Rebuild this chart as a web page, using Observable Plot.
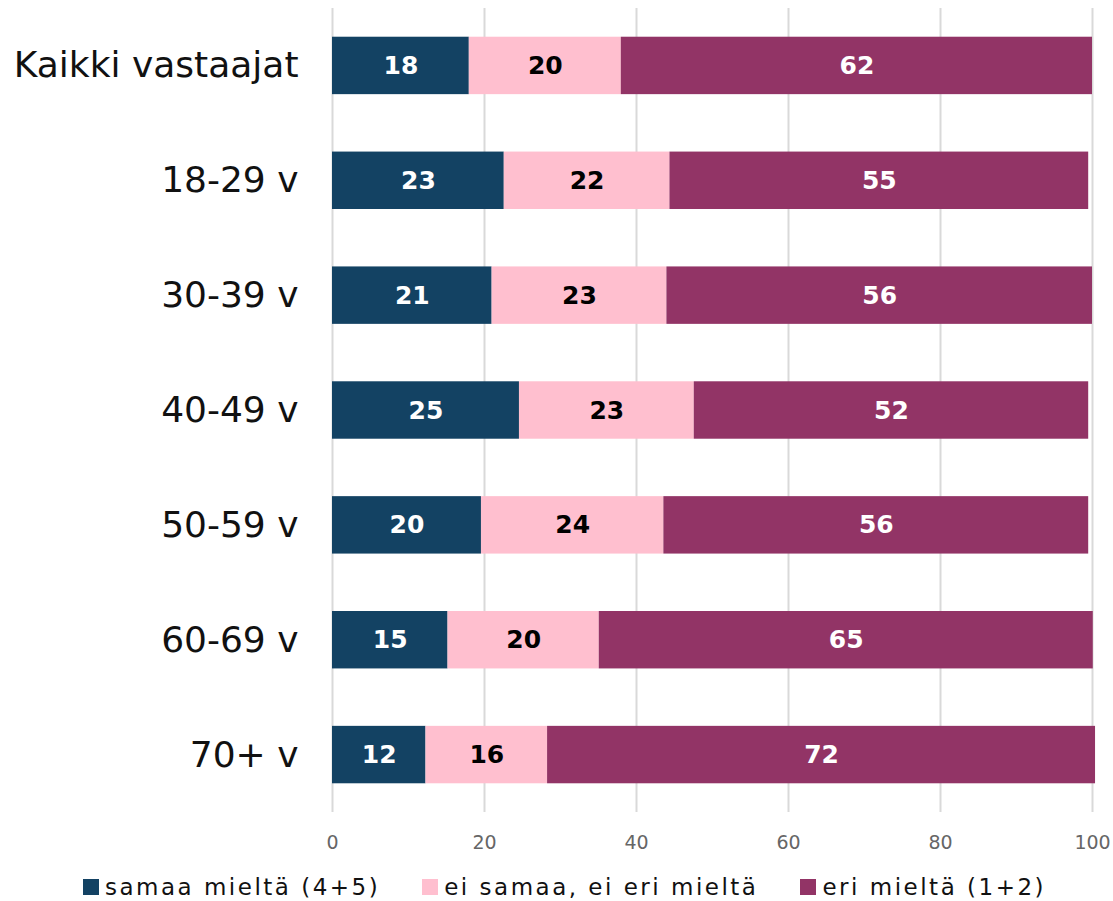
<!DOCTYPE html>
<html>
<head>
<meta charset="utf-8">
<script src="https://cdn.jsdelivr.net/npm/d3@7"></script>
<script src="https://cdn.jsdelivr.net/npm/@observablehq/plot@0.6"></script>
<style>
  body { margin: 0; background: #fff; font-family: "DejaVu Sans", sans-serif; overflow: hidden; }
  #chart svg { display: block; }
  #legend { display: flex; justify-content: center; align-items: center; gap: 42px; margin-left: 16px; height: 36px; padding-top: 17px; font-size: 23px; line-height: 28px; letter-spacing: 2.5px; color: #111; font-family: "DejaVu Sans", sans-serif; }
  .item { display: flex; align-items: center; gap: 6px; }
  .sw { width: 16px; height: 16px; display: inline-block; }
</style>
</head>
<body>
<div id="chart"></div>
<div id="legend"></div>
<script>
const groups = ["Kaikki vastaajat", "18-29 v", "30-39 v", "40-49 v", "50-59 v", "60-69 v", "70+ v"];
const seriesNames = ["samaa mieltä (4+5)", "ei samaa, ei eri mieltä", "eri mieltä (1+2)"];
const seriesColors = ["#134263", "#ffbfcf", "#923466"];
const agree    = [18.0, 22.6, 21.0, 24.6, 19.6, 15.2, 12.3];
const neutral  = [20.0, 21.8, 23.0, 23.0, 24.0, 19.9, 16.0];
const disagree = [62.0, 55.1, 56.0, 51.9, 55.9, 65.0, 72.1];
const xTicks = [0, 20, 40, 60, 80, 100];

const seriesValues = [agree, neutral, disagree];
const data = [];
groups.forEach((g, i) => {
  seriesNames.forEach((s, j) => {
    data.push({group: g, series: s, value: seriesValues[j][i]});
  });
});

const chart = Plot.plot({
  width: 1113,
  height: 852,
  marginLeft: 332,
  marginRight: 21,
  marginTop: 8,
  marginBottom: 40,
  style: { fontFamily: "DejaVu Sans, sans-serif", background: "#fff" },
  x: { domain: [0, 100], ticks: xTicks },
  y: { domain: groups, paddingInner: 0.5, paddingOuter: 0.25, round: false },
  color: { domain: seriesNames, range: seriesColors },
  marks: [
    Plot.gridX(xTicks, { stroke: "#d9d9d9", strokeOpacity: 1, strokeWidth: 2 }),
    Plot.barX(data, Plot.stackX({ x: "value", y: "group", fill: "series", order: seriesNames })),
    Plot.text(data, Plot.stackX({
      x: "value", y: "group", order: seriesNames,
      text: d => Math.round(d.value).toString(),
      fill: d => d.series === seriesNames[1] ? "#000" : "#fff",
      fontSize: 25, fontWeight: "bold", fontFamily: "DejaVu Sans, sans-serif"
    })),
    Plot.axisX({ ticks: xTicks, tickSize: 0, tickPadding: 23, fontSize: 19, color: "#666", label: null }),
    Plot.axisY({ tickSize: 0, tickPadding: 34, fontSize: 36, color: "#111", label: null })
  ]
});
document.getElementById("chart").appendChild(chart);

const legend = document.getElementById("legend");
seriesNames.forEach((s, i) => {
  const it = document.createElement("div");
  it.className = "item";
  const sw = document.createElement("span");
  sw.className = "sw";
  sw.style.background = seriesColors[i];
  const t = document.createElement("span");
  t.textContent = s;
  it.appendChild(sw); it.appendChild(t);
  legend.appendChild(it);
});
</script>
</body>
</html>
